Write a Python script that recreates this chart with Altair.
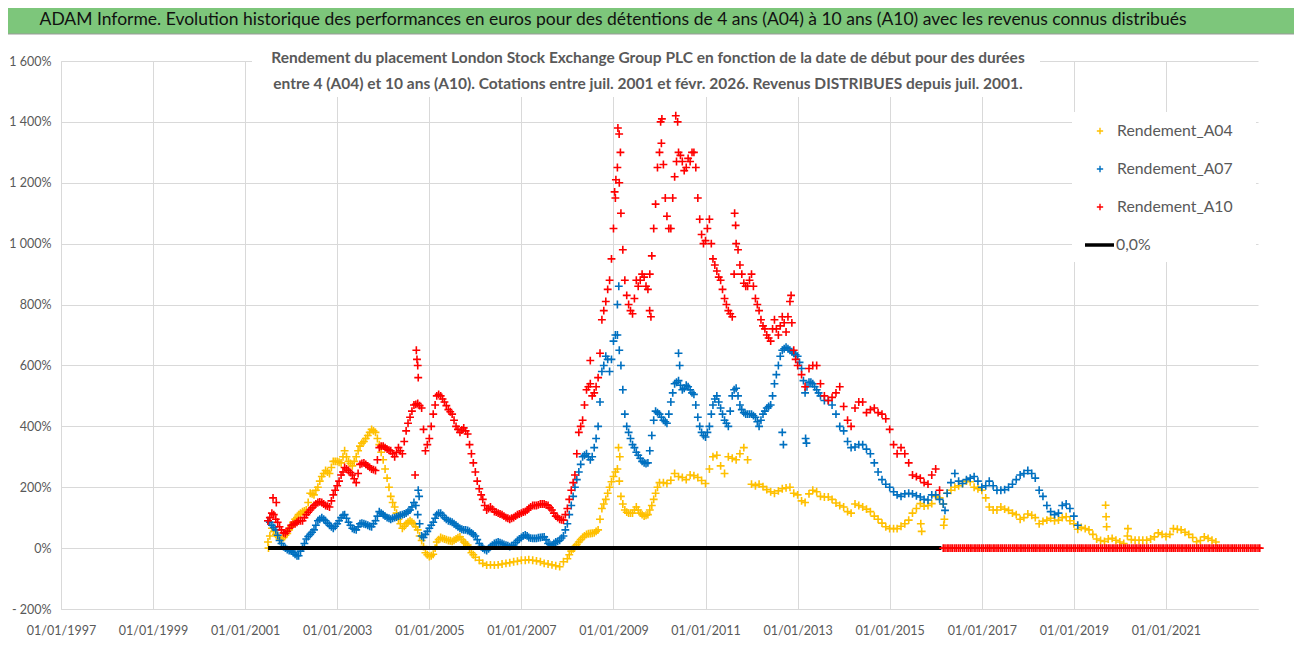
import altair as alt
import pandas as pd

# ---------------- data (monthly readings, % return) ----------------
A10_START = "2001-07-01"
a10_values = [
    90, 115, 95, 70, 50, 55,
    75, 80, 90, 90, 110, 125, 140, 150, 150, 140, 135, 175,
    205, 240, 265, 255, 240, 215, 275, 280, 270, 260, 255, 330,
    335, 325, 320, 300, 330, 310, 385, 430, 470, 475, 460, 320,
    360, 440, 500, 500, 480, 455, 440, 400, 380, 395, 375, 310,
    250, 195, 160, 125, 135, 120, 115, 110, 100, 95, 100, 110,
    115, 120, 130, 140, 140, 145, 145, 140, 125, 105, 95, 92,
    130, 190, 240, 380, 420, 520, 540, 510, 560, 750, 810, 880,
    1050, 1250, 1100, 880, 800, 770, 880, 880, 890, 850, 960, 1130,
    1300, 1260, 1090, 1050, 1220, 1300, 1270, 1250, 1270, 1300, 1150, 1030,
    1010, 1080, 950, 910, 880, 820, 780, 760, 1000, 930, 870, 860,
    900, 820, 780, 730, 700, 680, 750, 700, 760, 710, 810, 650,
    600, 570, 530, 590, 600, 600, 540, 500, 485, 495, 510, 530,
    465, 420, 400, 460, 480, 480, 445, 455, 460, 445, 440, 425,
    390, 340, 310, 330, 310, 280, 240, 235, 230, 215, 210, 240,
    260, 190,
]
# mid-month readings (2001-07 .. 2012-12)
A10_MID_START = "2001-07-16"
a10_mid_values = [
    100, 110, 85, 60, 48, 65,
    78, 85, 90, 100, 118, 132, 145, 152, 145, 138, 155, 190,
    220, 250, 260, 248, 228, 245, 278, 275, 265, 258, 290, 335,
    330, 322, 310, 315, 320, 350, 410, 450, 472, 468, 390, 340,
    400, 470, 505, 490, 468, 448, 420, 390, 388, 385, 340, 280,
    220, 175, 140, 130, 128, 118, 112, 105, 98, 98, 105, 112,
    118, 125, 135, 140, 142, 145, 142, 132, 115, 100, 93, 110,
    160, 215, 310, 400, 470, 530, 500, 530, 640, 780, 850, 950,
    1150, 1200, 980, 830, 780, 820, 860, 900, 860, 900, 1050, 1250,
    1330, 1150, 1050, 1150, 1270, 1290, 1240, 1280, 1300, 1250, 1080, 1000,
    1050, 1000, 930, 890, 850, 800, 770, 900, 980, 900, 860, 880,
    860, 800, 750, 720, 690, 720, 720, 730, 740, 760, 740, 620,
]
# after the end of the 10-year window the value is shown as 0 (semi-monthly)
A10_ZERO_START = "2016-03-01"
a10_zero_values = [0] * 166

A07_START = "2001-07-01"
a07_values = [
    90, 75, 60, 25, 5, -5,
    -10, -20, -25, 0, 30, 45, 60, 90, 100, 90, 75, 65,
    80, 100, 110, 85, 65, 60, 80, 80, 75, 70, 90, 120,
    110, 100, 95, 100, 105, 110, 115, 125, 150, 110, 40, 45,
    65, 85, 110, 115, 100, 90, 85, 75, 65, 60, 58, 50,
    40, 15, 0, -8, 5, 15, 20, 15, 10, 5, 10, 25,
    35, 43, 35, 32, 32, 35, 37, 15, 10, 20, 26, 40,
    80, 140, 200, 250, 300, 310, 290, 330, 400, 580, 630, 580,
    680, 700, 600, 440, 380, 340, 315, 295, 280, 280, 370, 450,
    440, 420, 410, 480, 540, 550, 520, 535, 520, 505, 430, 380,
    365, 400, 470, 500, 460, 420, 400, 500, 525, 470, 445, 440,
    440, 430, 400, 440, 460, 470, 540, 600, 650, 660, 650, 640,
    630, 590, 510, 545, 540, 520, 500, 485, 485, 470, 440, 400,
    385, 350, 330, 332, 340, 340, 325, 310, 280, 250, 225, 210,
    200, 185, 175, 170, 178, 180, 178, 172, 168, 160, 158, 175,
    175, 160, 145, 180, 215, 245, 220, 212, 225, 230, 235, 220,
    200, 205, 220, 205, 190, 190, 192, 200, 210, 225, 240, 245,
    255, 245, 230, 190, 170, 140, 120, 110, 115, 140, 145, 130,
    105, 75,
]
# mid-month readings (2001-07 .. 2013-06)
A07_MID_START = "2001-07-16"
a07_mid_values = [
    85, 68, 42, 15, 0, -8,
    -15, -25, -10, 15, 38, 52, 75, 95, 95, 82, 70, 72,
    90, 108, 98, 75, 62, 70, 82, 78, 72, 80, 105, 115,
    105, 98, 98, 102, 108, 112, 120, 135, 140, 80, 35, 55,
    75, 98, 115, 108, 95, 88, 80, 70, 62, 60, 55, 45,
    28, 5, -5, -2, 10, 18, 18, 12, 8, 8, 18, 30,
    40, 40, 33, 32, 34, 36, 28, 12, 15, 22, 33, 60,
    110, 170, 225, 275, 305, 300, 300, 360, 480, 600, 620, 620,
    700, 650, 520, 400, 360, 330, 305, 285, 278, 320, 420, 445,
    430, 415, 440, 510, 545, 535, 525, 530, 510, 470, 400, 370,
    380, 440, 490, 480, 440, 410, 450, 520, 500, 455, 440, 440,
    435, 415, 420, 450, 465, 500, 570, 630, 655, 655, 645, 635,
    610, 550, 530, 545, 530, 510,
]

A04_START = "2001-07-01"
a04_values = [
    20, 65, 45, 30, 35, 48,
    70, 95, 110, 120, 125, 180, 175, 200, 235, 255, 245, 285,
    285, 280, 320, 285, 270, 300, 335, 350, 370, 390, 380, 340,
    290, 230, 170, 135, 95, 65, 80, 90, 80, 60, 25, -15,
    -28, -20, 20, 35, 30, 25, 22, 30, 37, 20, 10, -15,
    -30, -40, -50, -56, -55, -56, -55, -52, -50, -48, -45, -43,
    -40, -40, -38, -40, -42, -45, -50, -52, -55, -58, -61, -45,
    -35, -10, 5, 20, 35, 45, 48, 50, 60, 130, 160, 200,
    235, 260, 170, 125, 115, 115, 135, 115, 105, 110, 140, 180,
    215, 215, 212, 223, 245, 235, 232, 225, 240, 238, 232, 222,
    212, 260, 300, 305, 270, 245, 300, 295, 290, 310, 330, 290,
    210, 205, 210, 202, 192, 185, 180, 188, 195, 198, 200, 180,
    175, 155, 150, 178, 190, 185, 170, 168, 168, 160, 148, 140,
    135, 120, 115, 145, 140, 135, 128, 120, 105, 95, 82, 70,
    64, 64, 64, 72, 80, 92, 115, 130, 146, 138, 140, 146,
    170, 165, 145, 180, 190, 200, 205, 212, 220, 218, 200, 195,
    190, 165, 135, 125, 125, 135, 128, 124, 115, 110, 95, 100,
    112, 108, 100, 80, 88, 92, 98, 90, 92, 100, 103, 90,
    80, 62, 68, 64, 60, 45, 30, 25, 22, 30, 32, 26,
    20, 15, 40, 28, 26, 26, 26, 26, 30, 37, 50, 45,
    38, 45, 64, 62, 60, 52, 45, 35, 21, 25, 37, 32,
    26, 20,
]
# mid-month readings (2001-07 .. 2005-12) and (2008-01 .. 2009-12)
A04_MID1_START = "2001-07-16"
a04_mid1_values = [
    40, 55, 38, 28, 42, 60,
    85, 100, 115, 122, 150, 178, 190, 220, 245, 250, 265, 285,
    282, 300, 300, 278, 285, 320, 345, 360, 380, 385, 360, 315,
    260, 200, 150, 115, 80, 72, 85, 85, 70, 40, 5, -22,
    -25, 0, 28, 32, 28, 24, 26, 34, 28, 15, -3, -22,
]
A04_MID2_START = "2008-01-16"
a04_mid2_values = [
    -22, -2, 12, 28, 40, 47, 49, 55, 95, 145, 180, 218,
    250, 220, 145, 118, 115, 125, 125, 110, 108, 125, 160, 200,
]

# isolated points (spikes / dips)
a10_extra_dates = ["2001-08-10", "2001-09-05", "2004-09-10", "2004-09-20", "2004-09-25",
                   "2004-10-01", "2004-10-05", "2008-07-01", "2009-01-10", "2009-01-20",
                   "2009-02-05", "2009-02-15", "2009-02-25", "2009-10-15", "2009-10-25",
                   "2010-01-10", "2010-01-20", "2010-05-10", "2010-05-25", "2011-08-20",
                   "2011-08-28", "2012-11-10"]
a10_extra_values = [165, 150, 240, 650, 620, 600, 560, 616, 1170, 1210,
                    1380, 1360, 1300, 780, 760, 1400, 1410, 1420, 1400, 1100,
                    1060, 830]
a07_extra_dates = ["2004-10-05", "2004-10-12", "2009-02-01", "2009-02-12", "2010-06-01",
                   "2010-06-10", "2012-09-01", "2012-09-10", "2013-03-05", "2013-03-12",
                   "2016-03-15"]
a07_extra_values = [190, 170, 800, 860, 640, 600, 380, 340, 360, 345, 124]
a04_extra_dates = ["2001-07-05", "2009-02-10", "2009-02-20", "2015-09-05", "2015-09-12",
                   "2016-03-05", "2016-03-10", "2019-09-10", "2019-09-14", "2019-09-18",
                   "2020-03-05"]
a04_extra_values = [0, 330, 300, 80, 55, 75, 95, 141, 103, 70, 64]

zero_line_dates = ["2001-07-02", "2016-02-15"]
zero_line_values = [0, 0]

series_names = ["Rendement_A04", "Rendement_A07", "Rendement_A10"]
series_colors = ["#FFC000", "#0070C0", "#FF0000"]

x_tick_years = list(range(1997, 2022, 2))
y_ticks = list(range(-200, 1601, 200))

title_text = ("ADAM Informe. Evolution historique des performances en euros pour des "
              "détentions de 4 ans (A04) à 10 ans (A10) avec les revenus connus distribués")
subtitle_lines = [
    "Rendement du placement London Stock Exchange Group PLC en fonction de la date de début pour des durées",
    "entre 4 (A04) et 10 ans (A10). Cotations entre juil. 2001 et févr. 2026. Revenus DISTRIBUES depuis juil. 2001.",
]


def monthly(start, values, freq="MS"):
    return pd.DataFrame({"date": pd.date_range(start, periods=len(values), freq=freq),
                         "value": values})


def mid(start, values):
    return pd.DataFrame({"date": pd.date_range(start[:8] + "01", periods=len(values), freq="MS")
                         + pd.Timedelta(days=15), "value": values})


def extras(dates, values):
    return pd.DataFrame({"date": pd.to_datetime(dates), "value": values})


df_a04 = pd.concat([monthly(A04_START, a04_values), mid(A04_MID1_START, a04_mid1_values),
                    mid(A04_MID2_START, a04_mid2_values), extras(a04_extra_dates, a04_extra_values)])
df_a07 = pd.concat([monthly(A07_START, a07_values), mid(A07_MID_START, a07_mid_values),
                    extras(a07_extra_dates, a07_extra_values)])
df_a10 = pd.concat([monthly(A10_START, a10_values), mid(A10_MID_START, a10_mid_values),
                    extras(a10_extra_dates, a10_extra_values)])
df_a10z = monthly(A10_ZERO_START, a10_zero_values, freq="SMS")
df_zero = pd.DataFrame({"date": pd.to_datetime(zero_line_dates), "value": zero_line_values})

W, H = 1197, 548
FONT = "Lato"
GREY = "#595959"
CROSS = "M-1,0L1,0M0,-1L0,1"

x_enc = alt.X(
    "date:T",
    scale=alt.Scale(domain=[alt.DateTime(year=1997, month=1, date=1),
                            alt.DateTime(year=2023, month=1, date=1)]),
    axis=alt.Axis(values=[alt.DateTime(year=y, month=1, date=1) for y in x_tick_years],
                  format="%d/%m/%Y", title=None, labelPadding=15, labelFlush=False,
                  labelOverlap=False),
)
y_enc = alt.Y(
    "value:Q",
    scale=alt.Scale(domain=[-200, 1600], nice=False, zero=False),
    axis=alt.Axis(values=y_ticks, title=None, labelPadding=10,
                  labelExpr="(datum.value < 0 ? '- ' : '') + replace(format(abs(datum.value), ','), ',', ' ') + '%'"),
)


def pts(df, color):
    return alt.Chart(df).mark_point(shape=CROSS, filled=False, strokeWidth=1.6,
                                    size=62, opacity=1, color=color).encode(x=x_enc, y=y_enc)


one = pd.DataFrame({"k": [0]})

layer_a04 = pts(df_a04, series_colors[0])
layer_a07 = pts(df_a07, series_colors[1])
layer_a10 = pts(df_a10, series_colors[2])
zero_line = alt.Chart(df_zero).mark_line(color="black", strokeWidth=4).encode(x=x_enc, y=y_enc)
layer_a10z = pts(df_a10z, series_colors[2])

# title bar
title_bg = alt.Chart(one).mark_rect(color="#7DC67B", stroke="#9a9a9a", strokeWidth=1).encode(
    x=alt.value(-54), x2=alt.value(W + 37), y=alt.value(-54), y2=alt.value(-27))
title_txt = alt.Chart(one).mark_text(text=title_text, font=FONT, fontSize=17.5, color="#111111",
                                     align="center", baseline="middle").encode(
    x=alt.value(552), y=alt.value(-41))

# subtitle box
sub_bg = alt.Chart(one).mark_rect(color="white").encode(
    x=alt.value(191), x2=alt.value(979), y=alt.value(-16), y2=alt.value(36))
sub1 = alt.Chart(one).mark_text(text=subtitle_lines[0], font=FONT, fontSize=15.5, fontWeight="bold",
                                color=GREY, align="center", baseline="middle").encode(
    x=alt.value(587), y=alt.value(-3))
sub2 = alt.Chart(one).mark_text(text=subtitle_lines[1], font=FONT, fontSize=15.5, fontWeight="bold",
                                color=GREY, align="center", baseline="middle").encode(
    x=alt.value(587), y=alt.value(23))

# legend
leg_bg = alt.Chart(one).mark_rect(color="white").encode(
    x=alt.value(1011), x2=alt.value(1195), y=alt.value(51), y2=alt.value(201))
leg_layers = [leg_bg]
for i, (name, col) in enumerate(zip(series_names, series_colors)):
    yy = 70 + 38 * i
    leg_layers.append(alt.Chart(one).mark_point(shape=CROSS, filled=False, strokeWidth=1.4, size=40,
                                                color=col, opacity=1).encode(
        x=alt.value(1039), y=alt.value(yy)))
    leg_layers.append(alt.Chart(one).mark_text(text=name, font=FONT, fontSize=15.8, color=GREY,
                                               align="left", baseline="middle").encode(
        x=alt.value(1056), y=alt.value(yy)))
leg_layers.append(alt.Chart(one).mark_rule(color="black", strokeWidth=3.5).encode(
    x=alt.value(1024), x2=alt.value(1053), y=alt.value(184)))
leg_layers.append(alt.Chart(one).mark_text(text="0,0%", font=FONT, fontSize=15.8, color=GREY,
                                           align="left", baseline="middle").encode(
    x=alt.value(1055), y=alt.value(184)))

chart = alt.layer(
    layer_a04, layer_a07, layer_a10, zero_line, layer_a10z,
    sub_bg, sub1, sub2, *leg_layers, title_bg, title_txt,
).properties(
    width=W, height=H,
    autosize=alt.AutoSizeParams(type="none"),
    padding={"left": 53, "top": 53, "right": 36, "bottom": 30},
    background="white",
).configure_view(stroke=None).configure_axis(
    labelFont=FONT, labelFontSize=12.5, labelColor=GREY, ticks=False,
    domainColor="#d9d9d9", gridColor="#d9d9d9", gridWidth=1, grid=True,
)

chart.save("out.html", embed_options={"renderer": "svg", "actions": False})
